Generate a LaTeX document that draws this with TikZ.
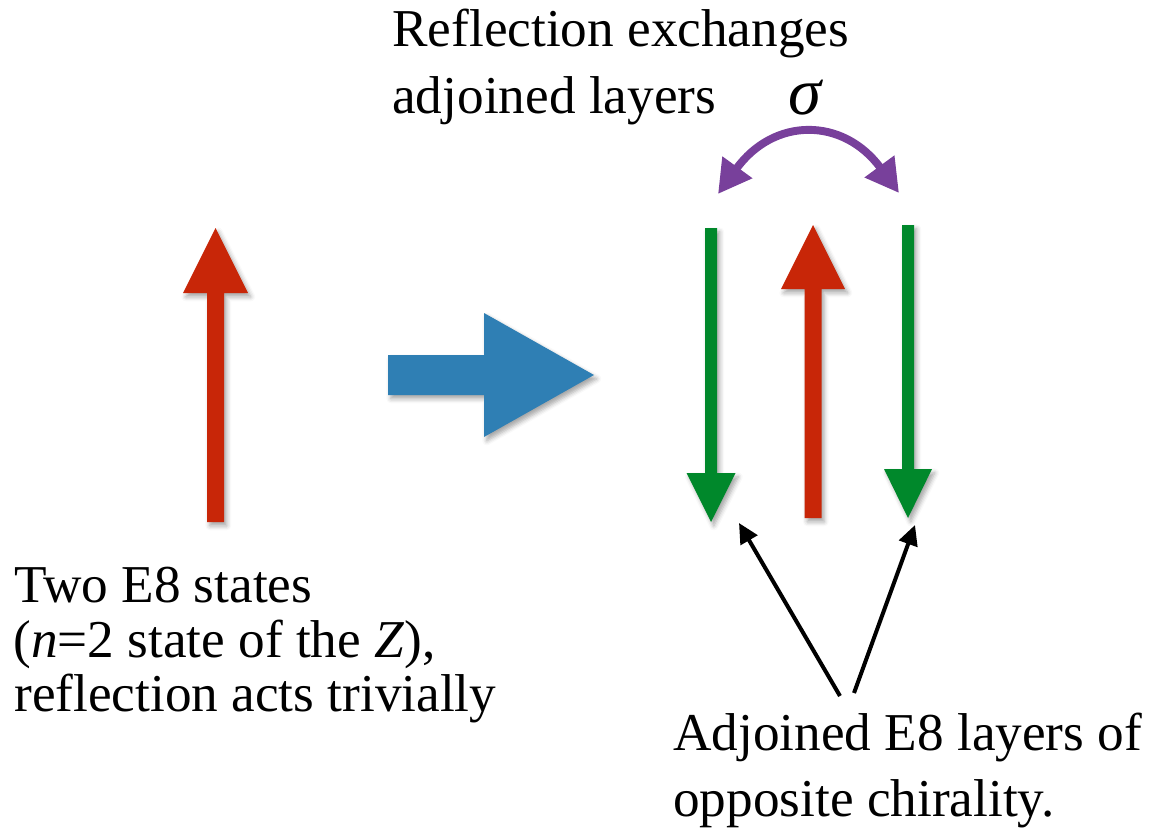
\documentclass[tikz,border=0pt]{standalone}
\usepackage{fontspec}
\setmainfont{Liberation Serif}
\usetikzlibrary{arrows.meta,shadows.blur}
\definecolor{arrowred}{RGB}{200,38,8}
\definecolor{layergreen}{RGB}{0,136,43}
\definecolor{mapblue}{RGB}{47,127,180}
\definecolor{swapviolet}{RGB}{120,64,155}
\begin{document}
\begin{tikzpicture}[x=0.02cm,y=-0.02cm,
  txt/.style={inner sep=0pt,anchor=base west,font=\fontsize{30.3}{33}\selectfont},
  softshadow/.style={blur shadow={shadow xshift=1.6pt,shadow yshift=-2.2pt,
      shadow blur radius=2.5pt,shadow opacity=35}},
  pointer/.style={draw=black,line width=2.28pt,-{Triangle[length=11.4pt,width=10.8pt]}},
  swap/.style={draw=swapviolet,line width=4.5pt,
      {Triangle[length=18.8pt,width=19.9pt]}-{Triangle[length=18.8pt,width=19.9pt]}}]
\useasboundingbox (0,0) rectangle (1150,828);

% single layer on the left
\fill[arrowred,softshadow] (207,522) -- (207,293) -- (183,293) -- (215.5,228)
  -- (248,293) -- (224,293) -- (224,522) -- cycle;

% big blue arrow
\fill[mapblue,softshadow] (388,355) -- (484,355) -- (484,313) -- (594,375)
  -- (484,437) -- (484,395) -- (388,395) -- cycle;

% three layers on the right
\fill[layergreen,softshadow] (705,228) -- (705,473) -- (686.5,473) -- (711,522)
  -- (735.5,473) -- (717,473) -- (717,228) -- cycle;
\fill[arrowred,softshadow] (804.5,518) -- (804.5,289) -- (781,289) -- (813,225)
  -- (845,289) -- (821.5,289) -- (821.5,518) -- cycle;
\fill[layergreen,softshadow] (902,225) -- (902,469) -- (884,469) -- (908,518)
  -- (932,469) -- (914,469) -- (914,225) -- cycle;

% exchange arc
\coordinate (swapL) at (718,194);
\coordinate (swapR) at (899,193);
\draw[swap] (swapL) .. controls (774,117) and (843,117) .. (swapR);

% captions
\node[txt] (r1) at (392,47) {Reflection exchanges};
\node[txt] (r2) at (392,113) {adjoined layers};
\node[inner sep=0pt,anchor=base west,font=\fontsize{38}{40}\selectfont\itshape] (sig) at (788,115) {σ};

\node[txt] (l1) at (14,602) {Two E8 states};
\node[txt] (l2) at (13,657) {(\textit{n}=2 state of the \textit{Z}),};
\node[txt] (l3) at (14,711) {reflection acts trivially};

\node[txt] (a1) at (673,750) {Adjoined E8 layers of};
\node[txt] (a2) at (673,816) {opposite chirality.};

% pointers to the adjoined layers
\coordinate (tailL) at (840,696);
\coordinate (tailR) at (854,693);
\coordinate (headL) at (739,523);
\coordinate (headR) at (915,525);
\draw[pointer] (tailL) -- (headL);
\draw[pointer] (tailR) -- (headR);
\end{tikzpicture}
\end{document}
